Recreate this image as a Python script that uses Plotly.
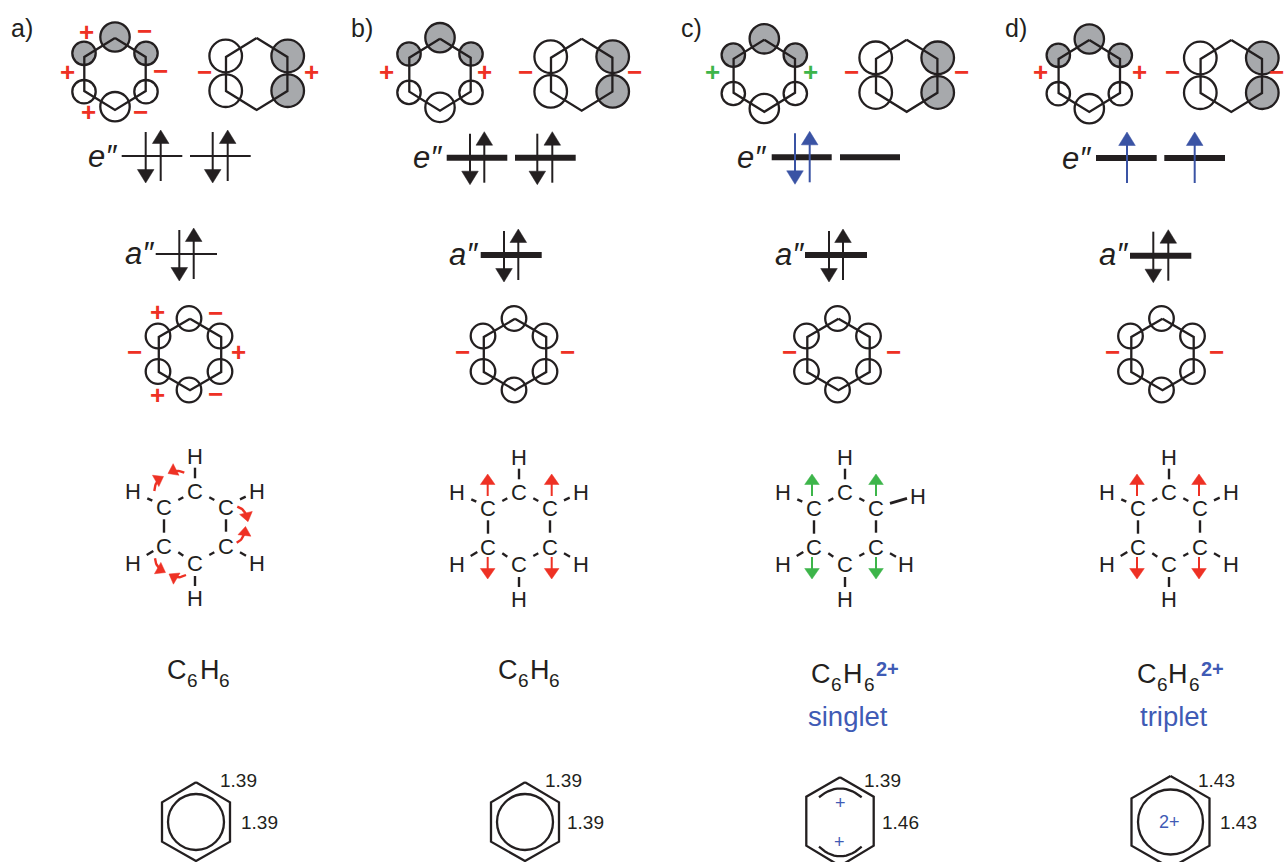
import plotly.graph_objects as go

W, H = 1285, 862
BLACK = "#231F20"; RED = "#EE3124"; GREEN = "#3DB54A"; BLUE = "#3A53A4"; TBLUE = "#3F5BB5"; GRAY = "#A7A9AC"
FONT = "Liberation Sans"
LW = 2.3

PANEL_LABELS = ["a)", "b)", "c)", "d)"]
LABEL_X = [22, 362, 691, 1016]
LABEL_Y = [28, 28, 28, 28]

RING1_X = [115, 440, 764.3, 1089.3]
RING2_X = [256.7, 581.7, 906.7, 1231.3]
RING_Y = [74, 74.7, 75.8, 76]
HEX_DX = 30.7
HEX_TOP = 36
HEX_SIDE = 17

# orbital lobes: dx, dy, radius, filled
LOBES1 = [(0, -37, 14.7, True), (-31, -20.7, 11.7, True), (31, -20.7, 11.7, True),
          (-31, 17.7, 11.7, False), (31, 17.7, 11.7, False), (0, 32.7, 14.7, False)]
LOBES2 = [(-31, -18, 16.3, False), (-31, 16.7, 16.3, False), (31, -18, 16.3, True), (31, 16.7, 16.3, True)]

TOP_SIGNS_X = [[86.7, 144, 67.7, 160.7, 88.3, 140.7, 204.3, 311.7], [386, 484, 525, 634.3],
               [712.3, 810.7, 851.7, 961], [1040, 1139.3, 1172.3, 1276]]
TOP_SIGNS_Y = [[32.3, 30.7, 71.7, 71, 112.3, 112.3, 71.7, 71.7], [71.7] * 4, [71.7] * 4, [71.7] * 4]
TOP_SIGNS_T = [["+", "−", "+", "−", "+", "−", "−", "+"], ["+", "+", "−", "−"], ["+", "+", "−", "−"], ["+", "+", "−", "−"]]
TOP_SIGNS_C = [[RED] * 8, [RED] * 4, [GREEN, GREEN, RED, RED], [RED] * 4]

E_LEVEL_X0 = [121.7, 446.7, 771.7, 1096]
E_LEVEL_X1 = [182.3, 507.3, 831.7, 1156.7]
E2_LEVEL_X0 = [190, 515, 840, 1164.3]
E2_LEVEL_X1 = [250.7, 575.7, 900, 1225]
E_LEVEL_Y = [156, 157.7, 157.3, 158]
E_LABEL_X = [102, 427, 751, 1076.7]
A_LEVEL_X0 = [155.7, 480.7, 805, 1130]
A_LEVEL_X1 = [217, 541.7, 867, 1191.3]
A_LEVEL_Y = [254, 255, 255, 255.7]
A_LABEL_X = [139, 463.5, 789, 1113.5]
LEVEL_WIDTH = [1.9, 6, 6, 6]

# electrons: x, direction (+1 up, -1 down), colour
E_ARROWS = [[(145.7, -1, BLACK), (160.7, 1, BLACK), (212.7, -1, BLACK), (227.7, 1, BLACK)],
            [(470, -1, BLACK), (484.3, 1, BLACK), (537.3, -1, BLACK), (552.3, 1, BLACK)],
            [(795, -1, BLUE), (809.7, 1, BLUE)],
            [(1127, 1, BLUE), (1194.7, 1, BLUE)]]
A_ARROWS_X = [(179.3, 193.7), (504, 518.3), (829, 843), (1153.3, 1168.3)]

MID_X = [190, 515, 838.5, 1162.5]
MID_Y = 354.5
MID_HEX_DX = 31.2
MID_HEX_TOP = 35.7
MID_HEX_SIDE = 17.5
MID_LOBES = [(-1, -36), (30, -18.5), (30, 17), (-1, 35.5), (-32, -18.5), (-32, 17)]
MID_R = 12.3
MID_SIGNS_X = [[157.7, 215.7, 134.3, 238.7, 157.7, 215], [462.3, 567], [789, 893], [1112, 1216]]
MID_SIGNS_Y = [[312, 312.7, 351.7, 351.7, 395, 394.3], [351.7, 351.7], [352, 352], [352, 352]]
MID_SIGNS_T = [["+", "−", "−", "+", "+", "−"], ["−", "−"], ["−", "−"], ["−", "−"]]

ATOM_OFF_X = [0, 324, 650, 974]
ATOM_OFF_Y = [0, 1, 1, 1]
C_X = [195, 226, 226, 195, 164, 164]
C_Y = [491.7, 507, 546, 563.3, 546, 507]
H_X = [195, 256.7, 256.7, 195, 133.3, 133.3]
H_Y = [456, 491.7, 563.3, 598, 563.3, 491.7]
HEAVY_H_C = [(267.7, 495.7), (256, 563)]
BONDS = [(195, 467.7, 195, 478.3), (178.3, 500, 183.3, 497.3), (209.3, 497.3, 214.3, 500), (240, 499.3, 245.7, 496.7),
         (226, 519.3, 226, 531.7), (209.3, 555, 214.3, 552.3), (240, 552.3, 246, 555.7), (195, 576, 195, 586),
         (178.3, 552.3, 183.3, 555.7), (146.7, 555, 153.3, 551), (147.3, 498.3, 152.3, 500.7), (164, 519.3, 164, 532.7)]
HEAVY_BOND_C = (240, 502.3, 257, 497.3)

# curved arrows of panel a: start, control, end
CURLY = [((154.3, 491), (155, 480), (163.5, 476.5)), ((184.3, 472.7), (176, 468.5), (168, 473.5)),
         ((237.3, 506.7), (246, 509), (248, 521.7)), ((236.7, 542.7), (245, 539), (245.5, 526.5)),
         ((155, 558.3), (155.5, 568), (165.5, 572.5)), ((186, 575), (177, 580), (169, 574))]
DISP_X = [487.7, 551.7, 812, 876, 1137, 1199]
DISP_C = [RED, RED, GREEN, GREEN, RED, RED]
DISP_UP = (496, 474)
DISP_DOWN = (557, 579)

# formula pieces: one x per glyph
FORMULA_T = ["C", "6", "H", "6"]
FORMULA_X = [[176.7, 192.5, 210, 224], [508.3, 523.5, 540, 554.5], [821, 836.5, 852.7, 869], [1146.7, 1162.2, 1178, 1194.5]]
FORMULA_Y = [670.3, 670.3, 674, 674]
SUB_DY = 10
CHARGE2_X = [887.3, 1212.7]
CHARGE2_Y = 669.3
STATE_T = ["singlet", "triplet"]
STATE_X = [848, 1174]
STATE_Y = 716.7

BOT_X = [196, 525, 840, 1170.5]
BOT_HALF = [34, 34, 33.7, 39]
BOT_TOP = [782.3, 782.3, 777.3, 776]
BOT_UP = [802.3, 802.3, 796.7, 798.3]
BOT_LOW = [841.7, 841.7, 845.7, 845.7]
BOT_BOTTOM = [861, 861, 866, 868]
BOT_CIRCLE_R = [28, 28, None, 32.5]
BOND1_T = ["1.39", "1.39", "1.39", "1.43"]
BOND1_X = [238.3, 563.3, 882, 1216]
BOND2_T = ["1.39", "1.39", "1.46", "1.43"]
BOND2_X = [259.3, 585, 900, 1238]
BOND1_Y = 780
BOND2_Y = 822
ARC_TOP = [(819, 797.3), (840, 779.5), (861.7, 797.3)]
ARC_BOT = [(819, 846.7), (840, 866), (861.7, 846.7)]
CHARGE_T = ["+", "+", "2+"]
CHARGE_X = [840.7, 839.7, 1169.5]
CHARGE_Y = [803, 842, 822]

segs = {}
heads = {}
shapes = []
notes = []


def poly(pts, color, width):
    xs, ys = segs.setdefault((color, width), ([], []))
    for p in pts:
        xs.append(p[0]); ys.append(p[1])
    xs.append(None); ys.append(None)


def head(tip, dx, dy, hw, hl, color):
    xs, ys = heads.setdefault(color, ([], []))
    bx, by = tip[0] - dx * hl, tip[1] - dy * hl
    xs += [tip[0], bx - dy * hw, bx + dy * hw, tip[0], None]
    ys += [tip[1], by + dx * hw, by - dx * hw, tip[1], None]


def text(x, y, t, size, color=BLACK, bold=False, italic=False):
    if bold:
        t = "<b>" + t + "</b>"
    if italic:
        t = "<i>" + t + "</i>"
    notes.append(dict(x=x, y=y, text=t, showarrow=False, xanchor="center", yanchor="middle",
                      font=dict(family=FONT, size=size, color=color), xref="x", yref="y"))


def circle(cx, cy, r, fill=None, w=LW):
    shapes.append(dict(type="circle", xref="x", yref="y", x0=cx - r, x1=cx + r, y0=cy - r, y1=cy + r,
                       line=dict(color=BLACK, width=w), fillcolor=fill if fill else "rgba(0,0,0,0)", layer="below"))


def hexagon(cx, cy, dx, top, side, w=LW):
    poly([(cx, cy - top), (cx + dx, cy - side), (cx + dx, cy + side), (cx, cy + top),
          (cx - dx, cy + side), (cx - dx, cy - side), (cx, cy - top)], BLACK, w)


def electron(x, up, color, ymid):
    if up > 0:
        poly([(x, ymid + 25), (x, ymid - 13)], color, 2)
        head((x, ymid - 26), 0, -1, 8.3, 13.5, color)
    else:
        poly([(x, ymid - 24), (x, ymid + 14)], color, 2)
        head((x, ymid + 27), 0, 1, 8.3, 13.5, color)


def quad(p0, p1, p2, n=14):
    return [((1 - t) ** 2 * p0[0] + 2 * (1 - t) * t * p1[0] + t ** 2 * p2[0],
             (1 - t) ** 2 * p0[1] + 2 * (1 - t) * t * p1[1] + t ** 2 * p2[1]) for t in [i / n for i in range(n + 1)]]


for i in range(4):
    text(LABEL_X[i], LABEL_Y[i], PANEL_LABELS[i], 25)
    cy = RING_Y[i]
    hexagon(RING1_X[i], cy, HEX_DX, HEX_TOP, HEX_SIDE)
    hexagon(RING2_X[i], cy, HEX_DX, HEX_TOP, HEX_SIDE)
    for dx, dy, r, f in LOBES1:
        circle(RING1_X[i] + dx, cy + dy, r, GRAY if f else None)
    for dx, dy, r, f in LOBES2:
        circle(RING2_X[i] + dx, cy + dy, r, GRAY if f else None)
    for x, y, t, c in zip(TOP_SIGNS_X[i], TOP_SIGNS_Y[i], TOP_SIGNS_T[i], TOP_SIGNS_C[i]):
        text(x, y, t, 26, c, bold=True)
    w = LEVEL_WIDTH[i]
    ey = E_LEVEL_Y[i]
    poly([(E_LEVEL_X0[i], ey), (E_LEVEL_X1[i], ey)], BLACK, w)
    poly([(E2_LEVEL_X0[i], ey), (E2_LEVEL_X1[i], ey)], BLACK, w)
    text(E_LABEL_X[i], ey, "e″", 31, italic=True)
    for x, d, c in E_ARROWS[i]:
        electron(x, d, c, ey)
    ay = A_LEVEL_Y[i]
    poly([(A_LEVEL_X0[i], ay), (A_LEVEL_X1[i], ay)], BLACK, w)
    text(A_LABEL_X[i], ay - 1, "a″", 31, italic=True)
    electron(A_ARROWS_X[i][0], -1, BLACK, ay)
    electron(A_ARROWS_X[i][1], 1, BLACK, ay)
    hexagon(MID_X[i], MID_Y, MID_HEX_DX, MID_HEX_TOP, MID_HEX_SIDE)
    for dx, dy in MID_LOBES:
        circle(MID_X[i] + dx, MID_Y + dy, MID_R)
    for x, y, t in zip(MID_SIGNS_X[i], MID_SIGNS_Y[i], MID_SIGNS_T[i]):
        text(x, y, t, 26, RED, bold=True)
    ox, oy = ATOM_OFF_X[i], ATOM_OFF_Y[i]
    for x, y in zip(C_X, C_Y):
        text(x + ox, y + oy, "C", 22)
    for k, (x, y) in enumerate(zip(H_X, H_Y)):
        if i == 2 and k in (1, 2):
            x, y = HEAVY_H_C[k - 1]
        text(x + ox, y + oy, "H", 22)
    for k, (x0, y0, x1, y1) in enumerate(BONDS):
        if i == 2 and k == 3:
            x0, y0, x1, y1 = HEAVY_BOND_C
            poly([(x0 + ox, y0 + oy), (x1 + ox, y1 + oy)], BLACK, 2.8)
        else:
            poly([(x0 + ox, y0 + oy), (x1 + ox, y1 + oy)], BLACK, 2.4)
    bx = BOT_X[i]; h = BOT_HALF[i]
    poly([(bx, BOT_TOP[i]), (bx + h, BOT_UP[i]), (bx + h, BOT_LOW[i]), (bx, BOT_BOTTOM[i]),
          (bx - h, BOT_LOW[i]), (bx - h, BOT_UP[i]), (bx, BOT_TOP[i])], BLACK, LW)
    if BOT_CIRCLE_R[i]:
        circle(bx, 822, BOT_CIRCLE_R[i], None, LW)
    text(BOND1_X[i], BOND1_Y, BOND1_T[i], 19)
    text(BOND2_X[i], BOND2_Y, BOND2_T[i], 19)
    for k, t in enumerate(FORMULA_T):
        if k % 2 == 0:
            text(FORMULA_X[i][k], FORMULA_Y[i], t, 27)
        else:
            text(FORMULA_X[i][k], FORMULA_Y[i] + SUB_DY, t, 19)

for x in CHARGE2_X:
    text(x, CHARGE2_Y, "2+", 20, TBLUE, bold=True)

for a, b, c in CURLY:
    pts = quad(a, b, c)
    poly(pts[:-2], RED, 2.4)
    (x1, y1), (x2, y2) = pts[-4], pts[-1]
    L = ((x2 - x1) ** 2 + (y2 - y1) ** 2) ** 0.5
    head(c, (x2 - x1) / L, (y2 - y1) / L, 6.5, 9, RED)

for x, c in zip(DISP_X, DISP_C):
    poly([(x, DISP_UP[0]), (x, DISP_UP[1] + 8)], c, 2)
    head((x, DISP_UP[1]), 0, -1, 7.3, 10.5, c)
    poly([(x, DISP_DOWN[0]), (x, DISP_DOWN[1] - 8)], c, 2)
    head((x, DISP_DOWN[1]), 0, 1, 7.3, 10.5, c)

for t, x in zip(STATE_T, STATE_X):
    text(x, STATE_Y, t, 27.5, TBLUE)
for t, x, y in zip(CHARGE_T, CHARGE_X, CHARGE_Y):
    text(x, y, t, 18, TBLUE)
poly(quad(*ARC_TOP), BLACK, LW)
poly(quad(*ARC_BOT), BLACK, LW)

fig = go.Figure()
for (color, width), (xs, ys) in segs.items():
    fig.add_trace(go.Scatter(x=xs, y=ys, mode="lines", line=dict(color=color, width=width), hoverinfo="skip",
                             connectgaps=False))
for color, (xs, ys) in heads.items():
    fig.add_trace(go.Scatter(x=xs, y=ys, mode="lines", fill="toself", fillcolor=color, line=dict(color=color, width=0.5),
                             hoverinfo="skip"))
fig.update_layout(width=W, height=H, margin=dict(l=0, r=0, t=0, b=0), showlegend=False,
                  paper_bgcolor="white", plot_bgcolor="white", shapes=shapes, annotations=notes,
                  xaxis=dict(range=[0, W], visible=False, fixedrange=True),
                  yaxis=dict(range=[H, 0], visible=False, fixedrange=True))
fig.write_html("out.html", config=dict(displayModeBar=False),
               post_script="document.body.style.margin='0';")
